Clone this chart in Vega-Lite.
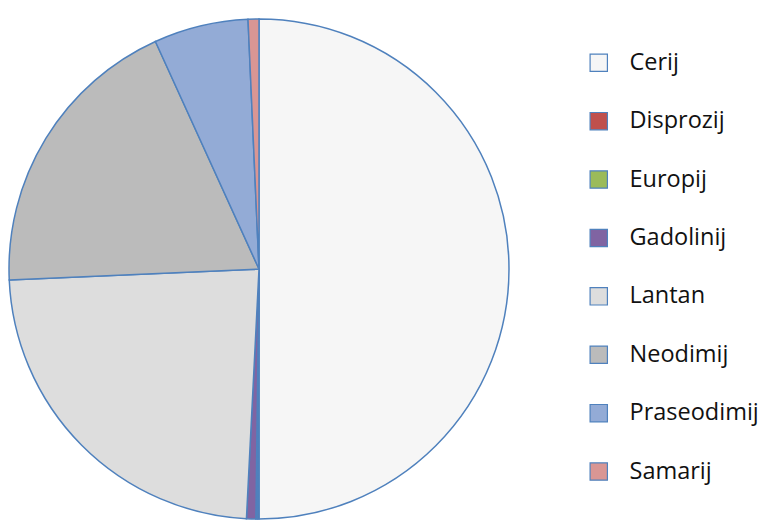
{
  "$schema": "https://vega.github.io/schema/vega-lite/v6.json",
  "width": 518,
  "height": 538,
  "autosize": {"type": "none"},
  "padding": {"left": 0, "top": 0, "right": 251, "bottom": 0},
  "background": "white",
  "data": {
    "values": [
      {"element": "Cerij", "share": 50.0},
      {"element": "Disprozij", "share": 0.1},
      {"element": "Europij", "share": 0.1},
      {"element": "Gadolinij", "share": 0.6},
      {"element": "Lantan", "share": 23.5},
      {"element": "Neodimij", "share": 18.9},
      {"element": "Praseodimij", "share": 6.1},
      {"element": "Samarij", "share": 0.7}
    ]
  },
  "mark": {"type": "arc", "outerRadius": 250, "stroke": "#4F81BD", "strokeWidth": 1.5},
  "encoding": {
    "theta": {"field": "share", "type": "quantitative", "stack": true},
    "order": {"field": "element", "sort": "ascending"},
    "color": {
      "field": "element",
      "type": "nominal",
      "scale": {
        "domain": ["Cerij", "Disprozij", "Europij", "Gadolinij", "Lantan", "Neodimij", "Praseodimij", "Samarij"],
        "range": ["#F6F6F6", "#C0504D", "#9BBB59", "#8064A2", "#DDDDDD", "#BBBBBB", "#93ABD6", "#D99694"]
      },
      "legend": {
        "title": null,
        "orient": "none",
        "legendX": 587,
        "legendY": 51,
        "padding": 0,
        "symbolType": "square",
        "symbolSize": 300,
        "symbolStrokeColor": "#4F81BD",
        "symbolStrokeWidth": 1.2,
        "labelFont": "Open Sans",
        "labelFontSize": 23.5,
        "labelColor": "#111111",
        "labelOffset": 19,
        "rowPadding": 33.4,
        "labelLimit": 300
      }
    }
  },
  "config": {"view": {"stroke": null}}
}
